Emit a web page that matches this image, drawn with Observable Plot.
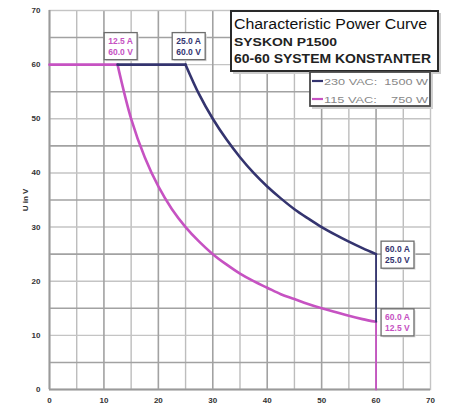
<!DOCTYPE html>
<html><head><meta charset="utf-8">
<script src="https://cdn.jsdelivr.net/npm/d3@7"></script>
<script src="https://cdn.jsdelivr.net/npm/@observablehq/plot@0.6"></script>
<style>
body{margin:0;background:#fff}
#wrap{position:relative;width:449px;height:408px;overflow:hidden}
#wrap svg{position:absolute;left:0;top:0}
</style>
</head><body><div id="wrap"></div>
<script>
// ---- data ----
const xTicks = [0,10,20,30,40,50,60,70];
const yTicks = [0,10,20,30,40,50,60,70];
const gridLight = [5,15,25,35,45,55,65];
const gridTens  = [10,20,30,40,50,60];

// 115 VAC : 750 W  (current A, voltage V)
const pinkFlatA  = [0, 12.5];
const pinkFlatV  = [60, 60];
const pinkCurveA = [12.5,15,17.5,20,22.5,25,27.5,30,32.5,35,37.5,40,42.5,45,47.5,50,52.5,55,57.5,60];
const pinkCurveV = [60,50,42.9,37.5,33.3,30,27.3,25,23.1,21.4,20,18.8,17.6,16.7,15.8,15,14.3,13.6,13,12.5];
const pinkDropA  = [60, 60];
const pinkDropV  = [12.5, 0];

// 230 VAC : 1500 W
const blueFlatA  = [12.5, 25];
const blueFlatV  = [60, 60];
const blueCurveA = [25,27.5,30,32.5,35,37.5,40,42.5,45,47.5,50,52.5,55,57.5,60];
const blueCurveV = [60,54.5,50,46.2,42.9,40,37.5,35.3,33.3,31.6,30,28.6,27.3,26.1,25];
const blueDropA  = [60, 60];
const blueDropV  = [25, 12.5];

const labelA    = [12.5, 25, 60, 60];
const labelV    = [60, 60, 25, 12.5];
const labelText = ["12.5 A\n60.0 V", "25.0 A\n60.0 V", "60.0 A\n25.0 V", "60.0 A\n12.5 V"];
const labelSer  = ["115", "230", "230", "115"];
const labelPos  = ["top", "top", "right", "right"];

const seriesNames = ["230 VAC:  1500 W", "115 VAC:    750 W"];
const NAVY = "#34346f", PINK = "#c652c2";

const pts = (A,V) => A.map((a,i)=>({a, v:V[i]}));
const labels = labelA.map((a,i)=>({a, v:labelV[i], t:labelText[i], s:labelSer[i], p:labelPos[i]}));

const lineOpt = (c, curve) => ({x:"a", y:"v", stroke:c, strokeWidth:2.6, curve});

const chart = Plot.plot({
  width: 449, height: 408,
  marginLeft: 49, marginRight: 19, marginTop: 10, marginBottom: 19,
  style: {background:"#fff", fontFamily:"'Liberation Sans', Arial, sans-serif"},
  x: {domain:[0,70], ticks: xTicks, tickSize:0, tickPadding:8, label:null},
  y: {domain:[0,70], ticks: yTicks, tickSize:0, tickPadding:9, label:"U in V", labelAnchor:"center", labelOffset:27, labelArrow:false},
  marks: [
    Plot.gridX(gridLight, {stroke:"#bdbdbd", strokeOpacity:1, strokeWidth:1.4}),
    Plot.gridY(gridTens, {stroke:"#c4c4c4", strokeOpacity:1, strokeWidth:1.4}),
    Plot.gridX(gridTens, {stroke:"#a2a2a2", strokeOpacity:1, strokeWidth:1.6}),
    Plot.gridY(gridLight, {stroke:"#a2a2a2", strokeOpacity:1, strokeWidth:1.6}),
    Plot.frame({stroke:"#c4c4c4", strokeWidth:1.4}),
    Plot.ruleX([0], {stroke:"#9a9a9a", strokeWidth:2}),
    Plot.ruleY([0], {stroke:"#9a9a9a", strokeWidth:2}),
    Plot.line(pts(pinkFlatA, pinkFlatV), lineOpt(PINK, "linear")),
    Plot.line(pts(pinkCurveA, pinkCurveV), lineOpt(PINK, "catmull-rom")),
    Plot.line(pts(pinkDropA, pinkDropV), {...lineOpt(PINK, "linear"), strokeWidth:1.8}),
    Plot.line(pts(blueFlatA, blueFlatV), lineOpt(NAVY, "linear")),
    Plot.line(pts(blueCurveA, blueCurveV), lineOpt(NAVY, "catmull-rom")),
    Plot.line(pts(blueDropA, blueDropV), {...lineOpt(NAVY, "linear"), strokeWidth:1.8}),
    Plot.text(labels.filter(d=>d.p==="top"), {x:"a", y:"v", text:"t", fill:d=>d.s==="115"?PINK:NAVY,
      lineAnchor:"bottom", dy:-10, dx:3, fontSize:8.5, fontWeight:"bold", lineHeight:1.3}),
    Plot.text(labels.filter(d=>d.p==="right"), {x:"a", y:"v", text:"t", fill:d=>d.s==="115"?PINK:NAVY,
      lineAnchor:"middle", textAnchor:"start", dx:9, fontSize:8.5, fontWeight:"bold", lineHeight:1.3})
  ]
});
document.getElementById("wrap").appendChild(chart);

// axis text styling
chart.querySelectorAll('g[aria-label$="tick label"] text, g[aria-label$="label"] text').forEach(t=>{
  t.setAttribute("font-weight","bold"); t.setAttribute("font-size","8"); t.setAttribute("fill","#333");
  t.textContent = t.textContent.replace(/[↑→←↓]/g,"").trim();
});

// boxes behind the point annotations
chart.querySelectorAll('g[aria-label="text"] text').forEach(t=>{
  const b = t.getBBox();
  const tr = t.getAttribute("transform");
  const mk = (off, fill, stroke) => {
    const r = document.createElementNS("http://www.w3.org/2000/svg","rect");
    r.setAttribute("x", b.x-4+off); r.setAttribute("y", b.y-3+off);
    r.setAttribute("width", b.width+8); r.setAttribute("height", b.height+6);
    r.setAttribute("fill", fill); r.setAttribute("stroke", stroke); r.setAttribute("stroke-width", 1.3);
    if (tr) r.setAttribute("transform", tr);
    t.parentNode.insertBefore(r, t);
  };
  mk(1.5, "#d8d8d8", "none");
  mk(0, "#fff", "#6e6e6e");
});

// title + legend overlay
const ov = d3.select("#wrap").append("svg").attr("width",449).attr("height",408)
  .style("font-family","'Liberation Sans', Arial, sans-serif");
ov.append("rect").attr("x",233).attr("y",13).attr("width",208).attr("height",61).attr("fill","#ccc");
ov.append("rect").attr("x",231).attr("y",11).attr("width",207).attr("height",60)
  .attr("fill","#fff").attr("stroke","#2a2a2a").attr("stroke-width",2);
ov.append("text").attr("x",234).attr("y",29).attr("font-size",15.5).attr("fill","#111")
  .attr("textLength",193).attr("lengthAdjust","spacingAndGlyphs").text("Characteristic Power Curve");
ov.append("text").attr("x",234).attr("y",46).attr("font-size",11).attr("font-weight","bold").attr("fill","#222")
  .attr("textLength",103).attr("lengthAdjust","spacingAndGlyphs").text("SYSKON P1500");
ov.append("text").attr("x",234).attr("y",63).attr("font-size",12).attr("font-weight","bold").attr("fill","#222")
  .attr("textLength",197).attr("lengthAdjust","spacingAndGlyphs").text("60-60 SYSTEM KONSTANTER");

ov.append("rect").attr("x",312).attr("y",74).attr("width",121).attr("height",35).attr("fill","#d0d0d0");
ov.append("rect").attr("x",310).attr("y",72).attr("width",120).attr("height",34)
  .attr("fill","#fff").attr("stroke","#4a4a4a").attr("stroke-width",1.8);
[NAVY, PINK].forEach((c,i)=>{
  const y = 81 + i*18;
  ov.append("line").attr("x1",312).attr("x2",323).attr("y1",y).attr("y2",y).attr("stroke",c).attr("stroke-width",2.2);
  ov.append("text").attr("x",324).attr("y",y+3.5).attr("font-size",9.5).attr("fill","#888")
    .attr("textLength",104).attr("lengthAdjust","spacingAndGlyphs").style("white-space","pre")
    .attr("xml:space","preserve").text(seriesNames[i]);
});
</script>
</body></html>
